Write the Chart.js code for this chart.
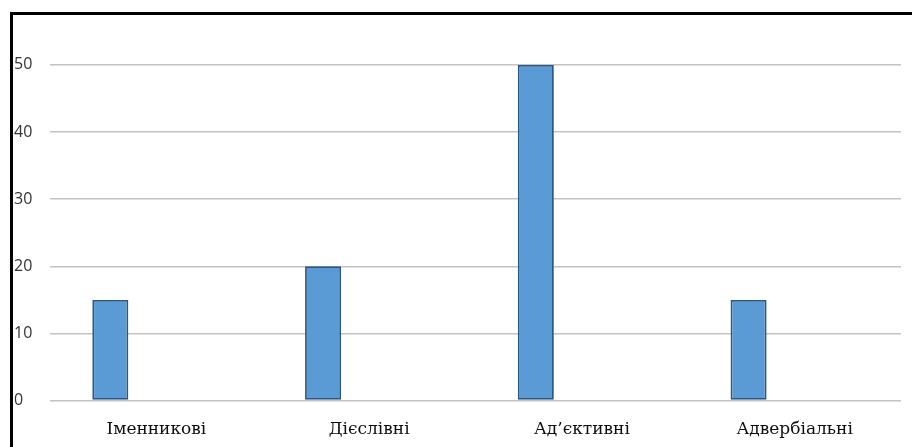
<!DOCTYPE html>
<html lang="uk">
<head>
<meta charset="utf-8">
<title>Частотність</title>
<script src="https://cdn.jsdelivr.net/npm/chart.js@4.4.1/dist/chart.umd.min.js"></script>
<style>
  html, body { margin: 0; padding: 0; background: #ffffff; }
  body { width: 912px; height: 447px; overflow: hidden; position: relative; }
  #frame {
    position: absolute; left: 10px; top: 12px; width: 902px; height: 460px;
    border-top: 3px solid #000; border-left: 3px solid #000;
    box-sizing: border-box; background: #fff;
  }
  #chart { display: block; }
</style>
</head>
<body>
<div id="frame"><canvas id="chart" width="899" height="450"></canvas></div>
<script>
// Categories and values
const categories = ['Іменникові', 'Дієслівні', 'Ад’єктивні', 'Адвербіальні'];
const seriesValues = [15, 20, 50, 15];
// Second series of the group carries no values, it only keeps its slot
const emptySeries = [null, null, null, null];
const yTicks = [0, 10, 20, 30, 40, 50];

const ctx = document.getElementById('chart').getContext('2d');
new Chart(ctx, {
  type: 'bar',
  data: {
    labels: categories,
    datasets: [
      {
        label: 'Ряд 1',
        data: seriesValues,
        backgroundColor: '#5b9bd5',
        borderColor: '#2b5682',
        borderWidth: 1.8,
        borderSkipped: false,
        categoryPercentage: 0.866,
        barPercentage: 0.391
      },
      {
        label: 'Ряд 2',
        data: emptySeries,
        backgroundColor: '#ed7d31',
        categoryPercentage: 0.866,
        barPercentage: 0.391
      }
    ]
  },
  options: {
    responsive: false,
    animation: false,
    layout: { padding: { left: 1, right: 11, top: 0, bottom: 6 } },
    plugins: {
      legend: { display: false },
      tooltip: { enabled: false }
    },
    scales: {
      x: {
        grid: { display: false, drawTicks: false },
        border: { display: false },
        ticks: {
          padding: 19,
          color: '#0d0d0d',
          font: { family: '"DejaVu Serif", "Liberation Serif", serif', size: 17 }
        }
      },
      y: {
        min: 0,
        max: 56,
        afterBuildTicks: (scale) => {
          scale.ticks = yTicks.map(v => ({ value: v }));
        },
        afterFit: (scale) => { scale.width = 36; },
        grid: { color: '#c3c3c3', lineWidth: 1.6, drawTicks: false },
        border: { display: false },
        ticks: {
          crossAlign: 'far',
          padding: 0,
          color: '#333333',
          font: { family: '"Open Sans", "Liberation Sans", sans-serif', size: 16 }
        }
      }
    }
  }
});
</script>
</body>
</html>
